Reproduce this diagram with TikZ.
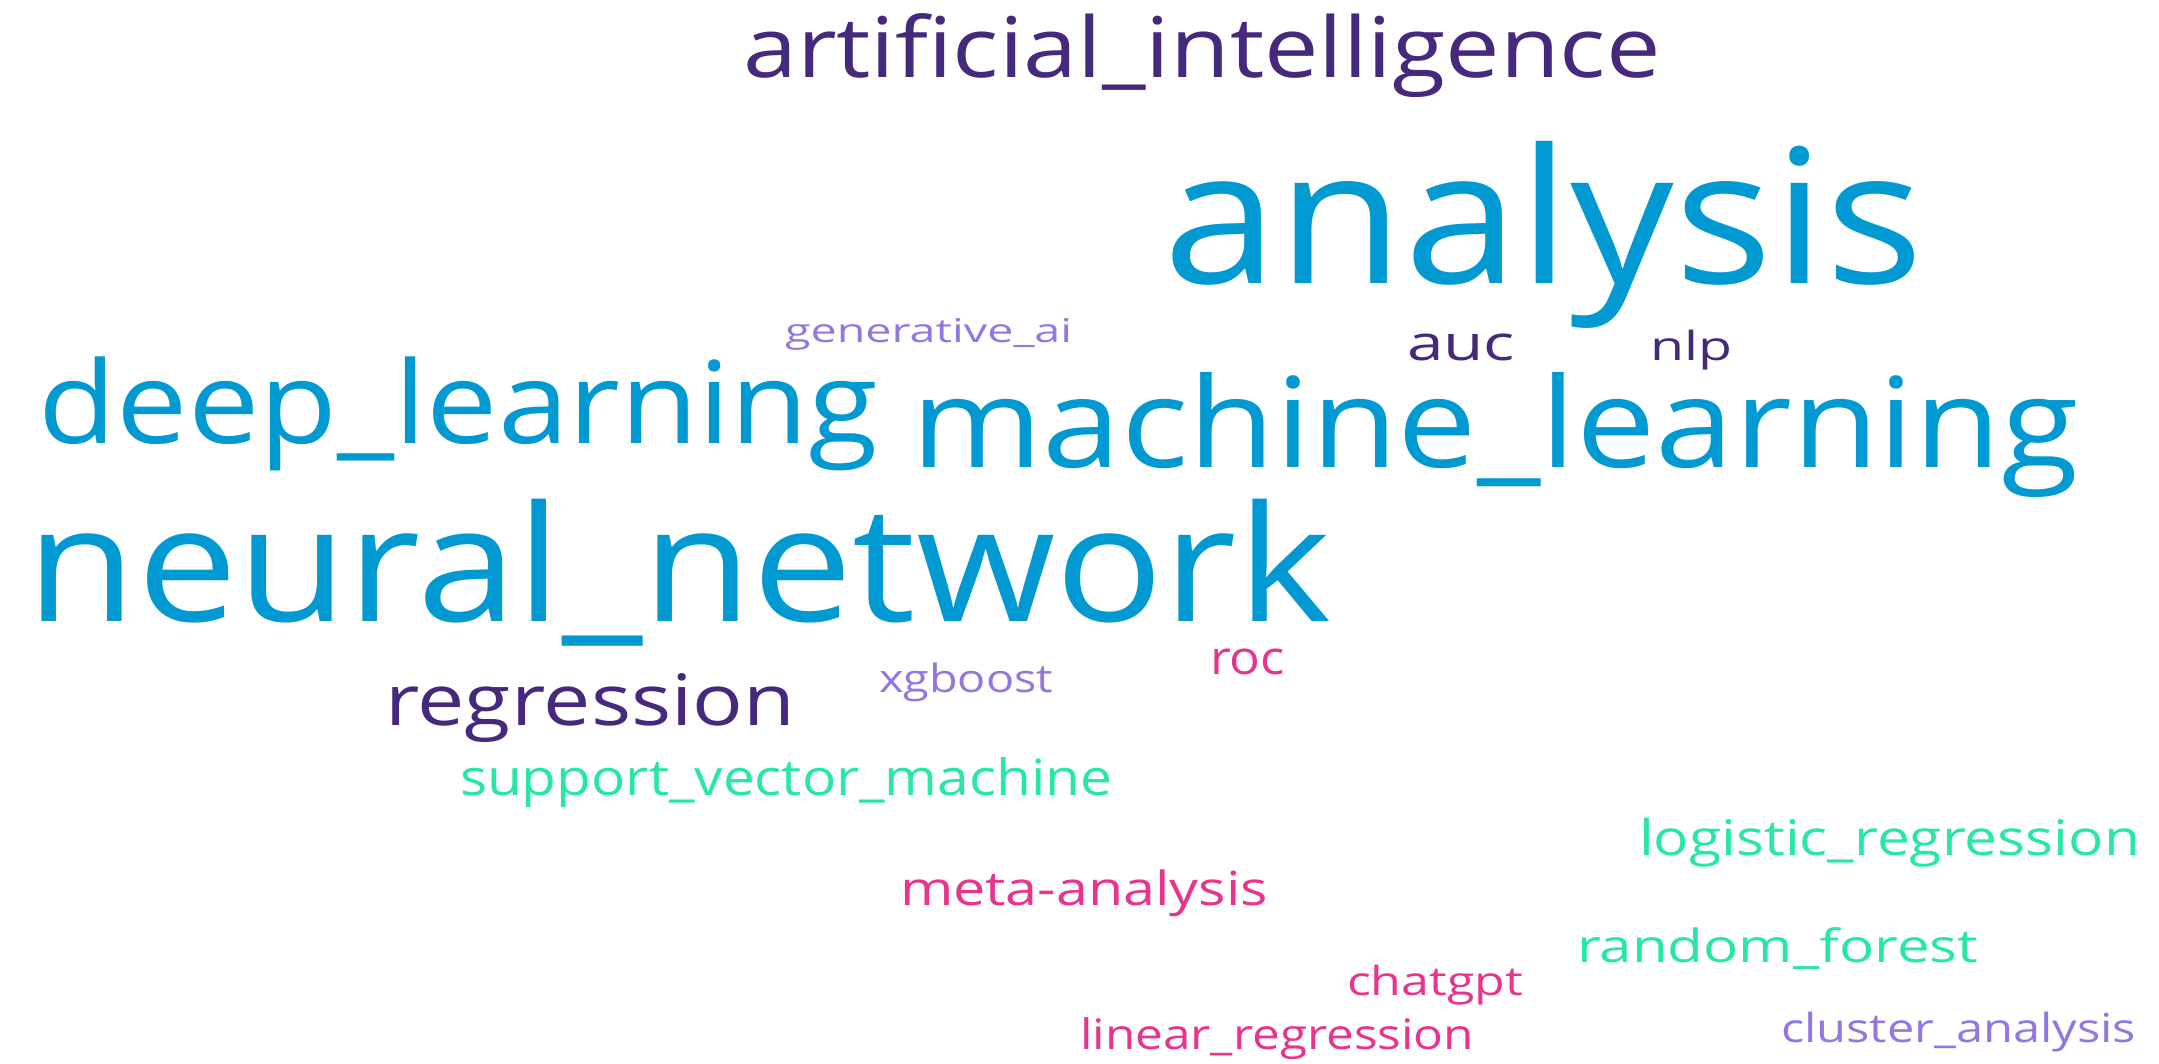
\documentclass[tikz,border=0pt]{standalone}
\usepackage{fontspec}
\setmainfont{Open Sans}
\usepackage{graphicx}
\usetikzlibrary{positioning}

\definecolor{cloudblue}{RGB}{0,153,209}
\definecolor{clouddark}{RGB}{70,40,125}
\definecolor{cloudlilac}{RGB}{148,118,224}
\definecolor{cloudpink}{RGB}{232,52,140}
\definecolor{cloudgreen}{RGB}{38,230,168}

% text squeezed into the box that the word takes in the cloud
\newcommand{\fitword}[3]{\resizebox*{#1cm}{#2cm}{#3}}

\begin{document}
\begin{tikzpicture}[
    x=0.01cm, y=-0.01cm,
    word/.style={inner sep=0pt, outer sep=0pt, anchor=north west}
  ]
    \useasboundingbox (0,0) rectangle (2159,1064);
    \node[word, text=clouddark] (artint) at (743,14) {\fitword{9.17}{0.84}{artificial\_intelligence}};
    \node[word, text=cloudblue] (analysis) at (1163,141) {\fitword{7.60}{1.87}{analysis}};
    \node[word, text=cloudlilac] (genai) at (785,318) {\fitword{2.87}{0.32}{generative\_ai}};
    \node[word, text=clouddark] (auc) at (1407,334) {\fitword{1.08}{0.27}{auc}};
    \node[word, text=clouddark] (nlp) at (1650,330) {\fitword{0.82}{0.40}{nlp}};
    \node[word, text=cloudblue] (deeplearn) at (39,357) {\fitword{8.39}{1.14}{deep\_learning}};
    \node[word, text=cloudblue] (machlearn) at (911,372) {\fitword{11.67}{1.25}{machine\_learning}};
    \node[word, text=cloudblue] (neuralnet) at (27,499) {\fitword{13.03}{1.47}{neural\_network}};
    \node[word, text=clouddark] (regression) at (385,673) {\fitword{4.10}{0.69}{regression}};
    \node[word, text=cloudlilac] (xgboost) at (879,663) {\fitword{1.74}{0.39}{xgboost}};
    \node[word, text=cloudpink] (roc) at (1210,649) {\fitword{0.75}{0.26}{roc}};
    \node[word, text=cloudgreen] (svm) at (460,757) {\fitword{6.52}{0.50}{support\_vector\_machine}};
    \node[word, text=cloudgreen] (logreg) at (1639,818) {\fitword{5.01}{0.49}{logistic\_regression}};
    \node[word, text=cloudpink] (meta) at (900,870) {\fitword{3.68}{0.47}{meta-analysis}};
    \node[word, text=cloudgreen] (forest) at (1577,928) {\fitword{4.01}{0.42}{random\_forest}};
    \node[word, text=cloudpink] (chatgpt) at (1347,965) {\fitword{1.76}{0.40}{chatgpt}};
    \node[word, text=cloudpink] (linreg) at (1080,1018) {\fitword{3.94}{0.42}{linear\_regression}};
    \node[word, text=cloudlilac] (cluster) at (1781,1012) {\fitword{3.55}{0.40}{cluster\_analysis}};
\end{tikzpicture}
\end{document}
